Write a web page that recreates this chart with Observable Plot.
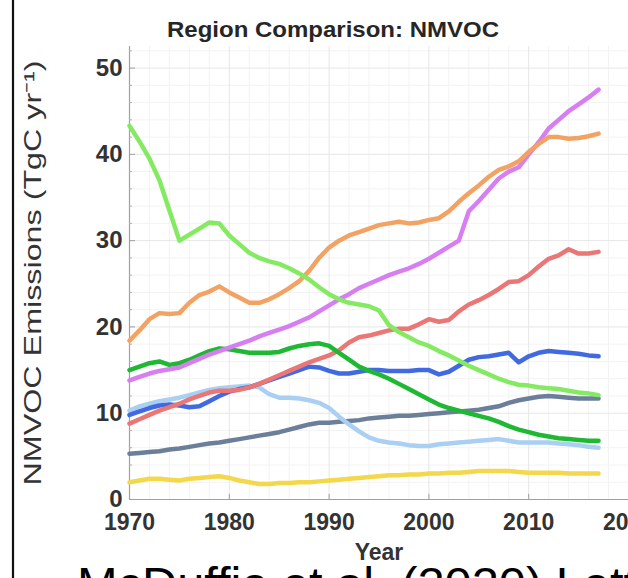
<!DOCTYPE html>
<html>
<head>
<meta charset="utf-8">
<script src="https://cdn.jsdelivr.net/npm/d3@7"></script>
<script src="https://cdn.jsdelivr.net/npm/@observablehq/plot@0.6"></script>
<style>
  html, body { margin: 0; padding: 0; background: #fff; }
  #chart { width: 628px; height: 578px; overflow: hidden; position: relative; }
</style>
</head>
<body>
<div id="chart"></div>
<script>
// ---- data ----
const years = [1970,1971,1972,1973,1974,1975,1976,1977,1978,1979,
  1980,1981,1982,1983,1984,1985,1986,1987,1988,1989,
  1990,1991,1992,1993,1994,1995,1996,1997,1998,1999,
  2000,2001,2002,2003,2004,2005,2006,2007,2008,2009,
  2010,2011,2012,2013,2014,2015,2016,2017];

const lightGreen = [43.3,41.5,39.5,37.0,33.5,30.0,30.7,31.4,32.1,32.0,
  30.6,29.6,28.6,28.0,27.6,27.3,26.8,26.2,25.5,24.6,
  23.8,23.2,22.8,22.6,22.4,21.9,20.2,19.4,18.8,18.2,
  17.8,17.2,16.7,16.1,15.5,15.0,14.5,14.0,13.6,13.3,
  13.2,13.0,12.9,12.8,12.6,12.4,12.3,12.1];

const orange = [18.4,19.6,20.9,21.6,21.5,21.6,22.8,23.7,24.1,24.7,
  24.0,23.4,22.8,22.8,23.2,23.8,24.5,25.3,26.5,28.0,
  29.2,30.0,30.6,31.0,31.4,31.8,32.0,32.2,32.0,32.1,
  32.4,32.6,33.4,34.5,35.5,36.4,37.4,38.2,38.6,39.2,
  40.3,41.2,42.0,42.0,41.8,41.9,42.1,42.4];

const purple = [13.8,14.2,14.6,14.9,15.1,15.3,15.8,16.3,16.8,17.2,
  17.6,18.0,18.4,18.9,19.3,19.7,20.1,20.6,21.1,21.8,
  22.5,23.2,23.8,24.5,25.0,25.5,26.0,26.4,26.8,27.3,
  27.9,28.6,29.3,30.0,33.4,34.6,35.9,37.2,38.0,38.5,
  40.0,41.4,43.0,44.0,45.0,45.8,46.6,47.5];

const darkGreen = [15.0,15.4,15.8,16.0,15.6,15.8,16.2,16.7,17.2,17.5,
  17.4,17.2,17.0,17.0,17.0,17.1,17.5,17.8,18.0,18.1,
  17.8,17.0,16.2,15.4,14.9,14.5,14.0,13.4,12.8,12.2,
  11.6,11.0,10.6,10.3,10.0,9.7,9.4,9.0,8.5,8.1,
  7.8,7.5,7.3,7.1,7.0,6.9,6.8,6.8];

const red = [8.8,9.3,9.8,10.3,10.7,11.1,11.6,12.0,12.4,12.6,
  12.6,12.7,13.0,13.4,13.9,14.4,14.9,15.4,15.9,16.3,
  16.7,17.3,18.2,18.8,19.0,19.3,19.6,19.8,19.8,20.3,
  20.9,20.6,20.8,21.8,22.6,23.1,23.7,24.4,25.2,25.3,
  26.0,27.0,27.9,28.3,29.0,28.5,28.5,28.7];

const blue = [9.8,10.2,10.6,10.9,11.0,10.9,10.7,10.8,11.4,12.0,
  12.5,12.8,13.0,13.4,13.8,14.2,14.6,15.0,15.4,15.3,
  14.9,14.6,14.6,14.8,15.0,15.0,14.9,14.9,14.9,15.0,
  15.0,14.5,14.8,15.5,16.2,16.5,16.6,16.8,17.0,15.9,
  16.6,17.0,17.2,17.1,17.0,16.9,16.7,16.6];

const lightBlue = [10.3,10.8,11.1,11.4,11.6,11.8,12.1,12.4,12.7,12.9,
  13.0,13.1,13.2,13.0,12.2,11.8,11.8,11.7,11.5,11.2,
  10.6,9.6,8.7,7.9,7.2,6.8,6.6,6.5,6.3,6.2,
  6.2,6.4,6.5,6.6,6.7,6.8,6.9,7.0,6.8,6.6,
  6.6,6.6,6.6,6.5,6.4,6.3,6.1,6.0];

const slate = [5.3,5.4,5.5,5.6,5.8,5.9,6.1,6.3,6.5,6.6,
  6.8,7.0,7.2,7.4,7.6,7.8,8.1,8.4,8.7,8.9,
  8.9,9.0,9.1,9.2,9.4,9.5,9.6,9.7,9.7,9.8,
  9.9,10.0,10.1,10.2,10.3,10.4,10.6,10.8,11.2,11.5,
  11.7,11.9,12.0,11.9,11.8,11.7,11.7,11.7];

const yellow = [2.0,2.2,2.4,2.4,2.3,2.2,2.4,2.5,2.6,2.7,
  2.5,2.2,2.0,1.8,1.8,1.9,1.9,2.0,2.0,2.1,
  2.2,2.3,2.4,2.5,2.6,2.7,2.8,2.8,2.9,2.9,
  3.0,3.0,3.1,3.1,3.2,3.3,3.3,3.3,3.3,3.2,
  3.1,3.1,3.1,3.1,3.0,3.0,3.0,3.0];

const seriesNames  = ["yellow","slate","lightBlue","blue","red","darkGreen","purple","orange","lightGreen"];
const seriesValues = [yellow, slate, lightBlue, blue, red, darkGreen, purple, orange, lightGreen];
const seriesColors = ["#F2D84A","#6C7F9A","#A9CFF2","#4069E2","#EA7676","#1FB833","#D67EF2","#F2A262","#84EA62"];

const xTicks = [1970,1980,1990,2000,2010,2020];
const yTicks = [0,10,20,30,40,50];
const xMinor = [1972,1974,1976,1978,1982,1984,1986,1988,1992,1994,1996,1998,2002,2004,2006,2008,2012,2014,2016,2018];
const yMinor = [2,4,6,8,12,14,16,18,22,24,26,28,32,34,36,38,42,44,46,48,52];

const titleText = "Region Comparison: NMVOC";
const xLabelText = "Year";
const yLabelText = "NMVOC Emissions (TgC yr\u207B\u00B9)";
const captionText = "McDuffie et al. (2020) Lett";

// ---- build ----
const fontFam = "'Liberation Sans', Arial, Helvetica, sans-serif";
const lineMarks = seriesValues.map((vals, i) =>
  Plot.line(years.map((yr, j) => ({year: yr, value: vals[j]})), {
    x: "year", y: "value", stroke: seriesColors[i], strokeWidth: 4.5,
    strokeLinejoin: "round", strokeLinecap: "round"
  })
);

const chart = Plot.plot({
  width: 628,
  height: 578,
  marginLeft: 129,
  marginRight: 0,
  marginTop: 46,
  marginBottom: 79,
  x: {domain: [1970, 2020], label: null},
  y: {domain: [0, 52.5], label: null},
  style: {fontFamily: fontFam, background: "#fff", color: "#333", overflow: "hidden"},
  marks: [
    Plot.gridX(xMinor, {stroke: "#f3f3f3", strokeOpacity: 1}),
    Plot.gridY(yMinor, {stroke: "#f3f3f3", strokeOpacity: 1}),
    Plot.gridX(xTicks, {stroke: "#e6e6e6", strokeOpacity: 1}),
    Plot.gridY(yTicks, {stroke: "#e6e6e6", strokeOpacity: 1}),
    Plot.ruleY([0], {stroke: "#a0a0a0", strokeWidth: 1.2}),
    Plot.ruleX([1970], {stroke: "#a0a0a0", strokeWidth: 1.2}),
    Plot.ruleX(xTicks, {x: d => d, y1: 0, y2: 0.6, stroke: "#a0a0a0"}),
    Plot.ruleY(yTicks, {y: d => d, x1: 1970, x2: 1970.6, stroke: "#a0a0a0"}),
    Plot.ruleY(yMinor, {y: d => d, x1: 1970, x2: 1970.3, stroke: "#b0b0b0"}),
    Plot.axisX(xTicks, {tickSize: 0, tickPadding: 14, fontSize: 23, fontWeight: "bold", tickFormat: d => String(d), fill: "#333"}),
    Plot.axisY(yTicks, {tickSize: 0, tickPadding: 7, fontSize: 24, fontWeight: "bold", fill: "#333"}),
    ...lineMarks
  ]
});

document.getElementById("chart").appendChild(chart);

const svg = d3.select(chart);
// left page border
svg.append("line").attr("x1", 13).attr("x2", 13).attr("y1", 0).attr("y2", 578)
  .attr("stroke", "#111").attr("stroke-width", 2.2);

svg.append("text").text(titleText)
  .attr("x", 333).attr("y", 37).attr("text-anchor", "middle")
  .attr("font-size", 22).attr("font-weight", "bold").attr("fill", "#262626")
  .attr("textLength", 332).attr("lengthAdjust", "spacingAndGlyphs");

svg.append("text").text(yLabelText)
  .attr("transform", "translate(41,273) rotate(-90)").attr("text-anchor", "middle")
  .attr("font-size", 24).attr("fill", "#333")
  .attr("textLength", 425).attr("lengthAdjust", "spacingAndGlyphs");

svg.append("text").text(xLabelText)
  .attr("x", 379).attr("y", 560).attr("text-anchor", "middle")
  .attr("font-size", 23).attr("font-weight", "bold").attr("fill", "#333");

svg.append("text").text(captionText)
  .attr("x", 77).attr("y", 600).attr("text-anchor", "start")
  .attr("font-size", 46).attr("fill", "#000")
  .attr("textLength", 560).attr("lengthAdjust", "spacingAndGlyphs");
</script>
</body>
</html>
